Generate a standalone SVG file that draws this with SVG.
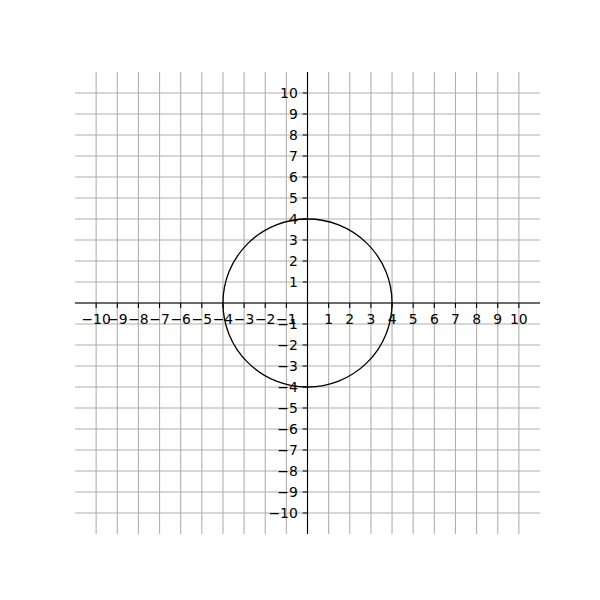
<svg xmlns="http://www.w3.org/2000/svg" width="600" height="600" viewBox="0 0 600 600">
<style>
.g{stroke:#b0b0b0;stroke-width:1.1;fill:none}
.ax{stroke:#000;stroke-width:1.1;fill:none}
.t{font-family:"DejaVu Sans",sans-serif;font-size:13.9px;fill:#000}
.xl{text-anchor:middle}
.yl{text-anchor:end}
</style>
<rect width="600" height="600" fill="#fff"/>
<g id="grid" class="g">
<path d="M96.14 72V534M117.28 72V534M138.41 72V534M159.55 72V534M180.68 72V534M201.82 72V534M222.95 72V534M244.09 72V534M265.23 72V534M286.36 72V534M307.5 72V534M328.64 72V534M349.77 72V534M370.91 72V534M392.05 72V534M413.18 72V534M434.32 72V534M455.45 72V534M476.59 72V534M497.73 72V534M518.86 72V534"/>
<path d="M75 93H540M75 114H540M75 135H540M75 156H540M75 177H540M75 198H540M75 219H540M75 240H540M75 261H540M75 282H540M75 303H540M75 324H540M75 345H540M75 366H540M75 387H540M75 408H540M75 429H540M75 450H540M75 471H540M75 492H540M75 513H540"/>
</g>
<g id="circle">
<ellipse cx="307.5" cy="303" rx="84.55" ry="84" fill="none" stroke="#000" stroke-width="1.3"/>
</g>
<g id="axes" class="ax">
<path d="M75 303H540M307.5 72V534"/>
<path d="M96.14 303v4.9M117.28 303v4.9M138.41 303v4.9M159.55 303v4.9M180.68 303v4.9M201.82 303v4.9M222.95 303v4.9M244.09 303v4.9M265.23 303v4.9M286.36 303v4.9M328.64 303v4.9M349.77 303v4.9M370.91 303v4.9M392.05 303v4.9M413.18 303v4.9M434.32 303v4.9M455.45 303v4.9M476.59 303v4.9M497.73 303v4.9M518.86 303v4.9"/>
<path d="M307.5 93h-4.9M307.5 114h-4.9M307.5 135h-4.9M307.5 156h-4.9M307.5 177h-4.9M307.5 198h-4.9M307.5 219h-4.9M307.5 240h-4.9M307.5 261h-4.9M307.5 282h-4.9M307.5 324h-4.9M307.5 345h-4.9M307.5 366h-4.9M307.5 387h-4.9M307.5 408h-4.9M307.5 429h-4.9M307.5 450h-4.9M307.5 471h-4.9M307.5 492h-4.9M307.5 513h-4.9"/>
</g>
<g id="xlabels" class="t xl">
<text x="96.14" y="323.5">−10</text>
<text x="117.28" y="323.5">−9</text>
<text x="138.41" y="323.5">−8</text>
<text x="159.55" y="323.5">−7</text>
<text x="180.68" y="323.5">−6</text>
<text x="201.82" y="323.5">−5</text>
<text x="222.95" y="323.5">−4</text>
<text x="244.09" y="323.5">−3</text>
<text x="265.23" y="323.5">−2</text>
<text x="286.36" y="323.5">−1</text>
<text x="328.64" y="323.5">1</text>
<text x="349.77" y="323.5">2</text>
<text x="370.91" y="323.5">3</text>
<text x="392.05" y="323.5">4</text>
<text x="413.18" y="323.5">5</text>
<text x="434.32" y="323.5">6</text>
<text x="455.45" y="323.5">7</text>
<text x="476.59" y="323.5">8</text>
<text x="497.73" y="323.5">9</text>
<text x="518.86" y="323.5">10</text>
</g>
<g id="ylabels" class="t yl">
<text x="297.8" y="98">10</text>
<text x="297.8" y="119">9</text>
<text x="297.8" y="140">8</text>
<text x="297.8" y="161">7</text>
<text x="297.8" y="182">6</text>
<text x="297.8" y="203">5</text>
<text x="297.8" y="224">4</text>
<text x="297.8" y="245">3</text>
<text x="297.8" y="266">2</text>
<text x="297.8" y="287">1</text>
<text x="297.8" y="329">−1</text>
<text x="297.8" y="350">−2</text>
<text x="297.8" y="371">−3</text>
<text x="297.8" y="392">−4</text>
<text x="297.8" y="413">−5</text>
<text x="297.8" y="434">−6</text>
<text x="297.8" y="455">−7</text>
<text x="297.8" y="476">−8</text>
<text x="297.8" y="497">−9</text>
<text x="297.8" y="518">−10</text>
</g>
</svg>
